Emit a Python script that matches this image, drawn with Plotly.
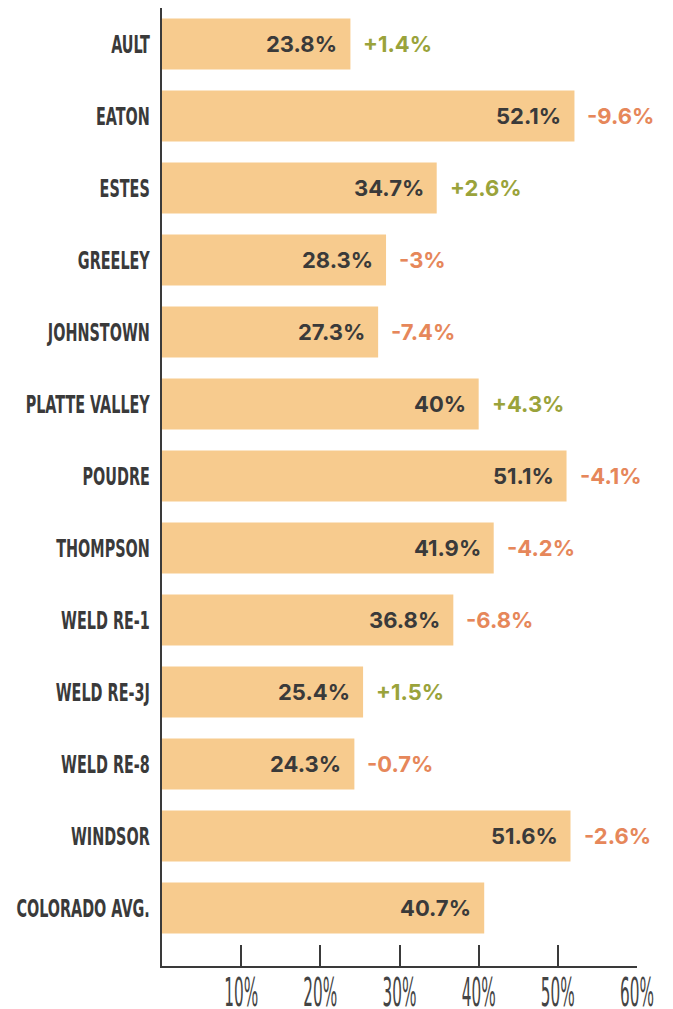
import plotly.graph_objects as go

districts = ["AULT", "EATON", "ESTES", "GREELEY", "JOHNSTOWN", "PLATTE VALLEY", "POUDRE",
             "THOMPSON", "WELD RE-1", "WELD RE-3J", "WELD RE-8", "WINDSOR", "COLORADO AVG."]
values = [23.8, 52.1, 34.7, 28.3, 27.3, 40, 51.1, 41.9, 36.8, 25.4, 24.3, 51.6, 40.7]
value_labels = ["23.8%", "52.1%", "34.7%", "28.3%", "27.3%", "40%", "51.1%", "41.9%",
                "36.8%", "25.4%", "24.3%", "51.6%", "40.7%"]
changes = ["+1.4%", "-9.6%", "+2.6%", "-3%", "-7.4%", "+4.3%", "-4.1%", "-4.2%",
           "-6.8%", "+1.5%", "-0.7%", "-2.6%", ""]
tick_vals = [10, 20, 30, 40, 50, 60]
tick_text = ["10%", "20%", "30%", "40%", "50%", "60%"]

BAR = "#F7CB8E"
DARK = "#3A3A3A"
GREEN = "#9AA33B"
ORANGE = "#E6875A"
NARROW = "Liberation Sans Narrow, DejaVu Sans Condensed, Arial Narrow, sans-serif"
BOLD = "Inter, Montserrat, Open Sans, sans-serif"

fig = go.Figure()
fig.add_trace(go.Bar(
    x=values, y=districts, orientation="h",
    marker=dict(color=BAR, line=dict(width=0)),
    width=0.71, hoverinfo="skip",
))

annotations = []
for d, v, vl, c in zip(districts, values, value_labels, changes):
    annotations.append(dict(
        x=v, y=d, xref="x", yref="y", text=vl, showarrow=False,
        xanchor="right", yanchor="middle", xshift=-11,
        font=dict(family=BOLD, size=22, color=DARK, weight="bold"),
    ))
    if c:
        annotations.append(dict(
            x=v, y=d, xref="x", yref="y", text=c, showarrow=False,
            xanchor="left", yanchor="middle", xshift=11,
            font=dict(family=BOLD, size=22, color=GREEN if c.startswith("+") else ORANGE,
                      weight="bold"),
        ))

fig.update_layout(
    width=673, height=1009,
    margin=dict(l=162, r=36, t=8, b=43, autoexpand=False),
    paper_bgcolor="white", plot_bgcolor="white",
    showlegend=False,
    annotations=annotations,
    xaxis=dict(
        range=[0, 60], showgrid=False, zeroline=False,
        showline=True, linecolor=DARK, linewidth=2,
        ticks="inside", ticklen=21, tickwidth=2, tickcolor=DARK,
        tickvals=tick_vals, ticktext=tick_text,
        tickfont=dict(family=NARROW, size=17, color="#444444"),
        ticklabelstandoff=10, automargin=False,
        fixedrange=True,
    ),
    yaxis=dict(
        categoryorder="array", categoryarray=districts,
        range=[12.5 + 22 / 72, -0.5],
        showgrid=False, zeroline=False,
        showline=True, linecolor=DARK, linewidth=2,
        ticks="", tickfont=dict(family=NARROW, size=16, color="#3A3A3A", weight="bold"),
        ticklabelstandoff=7, automargin=False,
        fixedrange=True,
    ),
)

post = """
var s = document.createElement('style');
s.textContent = 'html,body{margin:0;padding:0;overflow:hidden;}' +
                'g.ytick{transform-box:fill-box;transform-origin:50% 50%;transform:scaleY(1.6);}' +
                'g.xtick{transform-box:fill-box;transform-origin:50% 50%;transform:scaleY(2.3);}';
document.head.appendChild(s);
"""
fig.write_html("out.html", post_script=post, config={"displayModeBar": False})
